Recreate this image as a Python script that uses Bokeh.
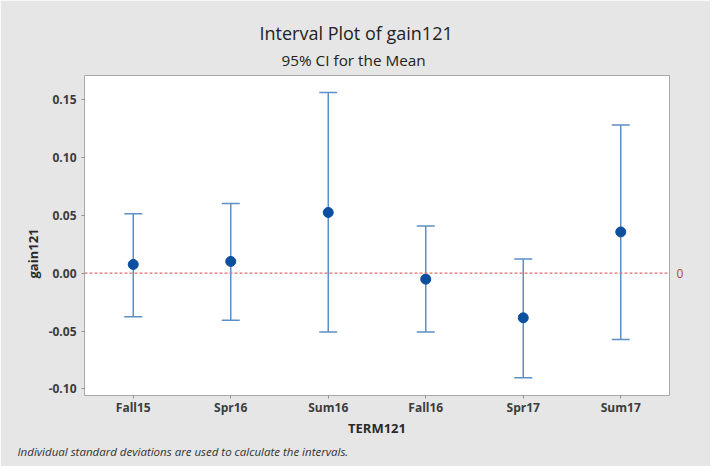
from bokeh.plotting import figure
from bokeh.models import (FactorRange, Range1d, ColumnDataSource, Whisker, TeeHead,
                          Span, Title, LinearAxis, FixedTicker, NumeralTickFormatter)
from bokeh.embed import file_html
from bokeh.resources import INLINE

# ---- data ----
terms = ["Fall15", "Spr16", "Sum16", "Fall16", "Spr17", "Sum17"]
means = [0.0075, 0.0101, 0.0524, -0.0052, -0.0386, 0.0356]
upper_ci = [0.0512, 0.0602, 0.1560, 0.0406, 0.0123, 0.1280]
lower_ci = [-0.0377, -0.0406, -0.0509, -0.0509, -0.0904, -0.0573]
y_ticks = [-0.10, -0.05, 0.00, 0.05, 0.10, 0.15]
ref_value = 0.0

title_text = "Interval Plot of gain121"
subtitle_text = "95% CI for the Mean"
x_title = "TERM121"
y_title = "gain121"
footnote = "Individual standard deviations are used to calculate the intervals."

FONT = "Open Sans"
BG = "#e6e6e6"

src = ColumnDataSource(dict(term=terms, mean=means, upper=upper_ci, lower=lower_ci))

p = figure(x_range=FactorRange(factors=terms), y_range=Range1d(-0.1057, 0.1707),
           width=710, height=466, output_backend="svg", toolbar_location=None,
           title=None, min_border_left=84, min_border_right=41,
           min_border_top=75, min_border_bottom=71)

p.background_fill_color = "white"
p.border_fill_color = BG
p.outline_line_color = "#a8a8a8"
p.outline_line_width = 1
p.grid.visible = False

# axes
for ax in (p.xaxis[0], p.yaxis[0]):
    ax.axis_line_color = None
    ax.major_tick_line_color = "#909090"
    ax.major_tick_in = 0
    ax.major_tick_out = 3
    ax.minor_tick_line_color = None
    ax.major_label_text_font = FONT
    ax.major_label_text_font_size = "12px"
    ax.major_label_text_font_style = "bold"
    ax.major_label_text_color = "#3c3c3c"

p.yaxis[0].ticker = FixedTicker(ticks=y_ticks)
p.yaxis[0].formatter = NumeralTickFormatter(format="0.00")
p.yaxis[0].major_label_standoff = 5

p.xaxis[0].axis_label = x_title
p.xaxis[0].axis_label_text_font = FONT
p.xaxis[0].axis_label_text_font_size = "13px"
p.xaxis[0].axis_label_text_font_style = "bold"
p.xaxis[0].axis_label_text_color = "#2a2a2a"
p.xaxis[0].axis_label_standoff = 0
p.xaxis[0].major_label_standoff = 0

# reference line at 0, labelled on the right
p.add_layout(Span(location=ref_value, dimension="width", line_color="#e07070",
                  line_dash="3 2", line_width=1.2))
ref_axis = LinearAxis(ticker=FixedTicker(ticks=[ref_value]),
                      formatter=NumeralTickFormatter(format="0"))
ref_axis.axis_line_color = None
ref_axis.major_tick_line_color = None
ref_axis.minor_tick_line_color = None
ref_axis.major_tick_out = 0
ref_axis.major_label_standoff = 7
ref_axis.major_label_text_font = FONT
ref_axis.major_label_text_font_size = "12px"
ref_axis.major_label_text_color = "#b8472f"
p.add_layout(ref_axis, "right")

# intervals
wcol = "#5d8fc4"
w = Whisker(base="term", upper="upper", lower="lower", source=src,
            line_color=wcol, line_width=1.5,
            upper_head=TeeHead(size=18, line_color=wcol, line_width=1.5),
            lower_head=TeeHead(size=18, line_color=wcol, line_width=1.5))
p.add_layout(w)
p.scatter(x="term", y="mean", source=src, size=10, color="#0c4f9e")

# titles (subtitle first: nearest to the frame); left-aligned with offsets
p.add_layout(Title(text=subtitle_text, align="left", offset=197, text_font=FONT,
                   text_font_size="15.3px", text_font_style="normal",
                   text_color="#222222", standoff=11), "above")
p.add_layout(Title(text=title_text, align="left", offset=175, text_font=FONT,
                   text_font_size="18px", text_font_style="normal",
                   text_color="#222222", standoff=-4), "above")
p.add_layout(Title(text=y_title, align="left", offset=117, text_font=FONT,
                   text_font_size="13px", text_font_style="bold",
                   text_color="#2a2a2a", standoff=7), "left")
p.add_layout(Title(text=footnote, align="left", offset=-67, text_font=FONT,
                   text_font_size="11.5px", text_font_style="italic",
                   text_color="#333333", standoff=5), "below")

open("out.html", "w").write(file_html(p, INLINE))
